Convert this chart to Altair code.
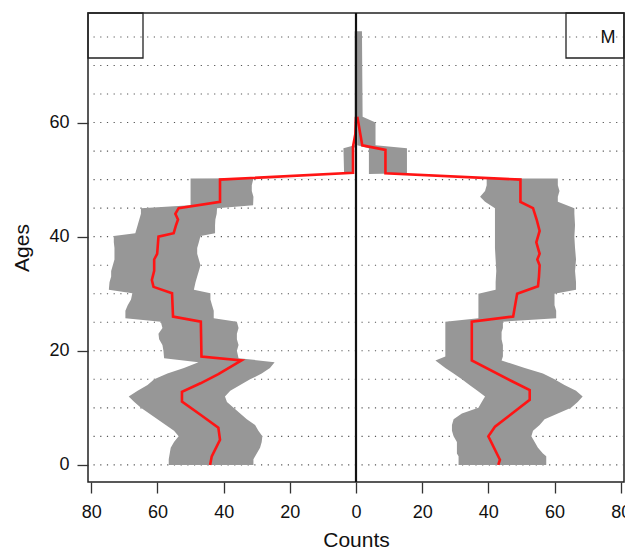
import altair as alt
import pandas as pd

# ---- data ----
# Left panel (unlabelled): band breakpoints (age), inner and outer edges (counts), median line
F_band_age = [0, 1, 2, 3, 4, 5, 6, 7, 8, 9, 10, 11, 12, 13, 14, 15, 16, 17, 18, 18.7, 20, 21, 22, 23, 24,
              25.1, 25.7, 27, 28, 29, 30.1, 30.7, 32, 33, 34, 35, 36, 37, 38, 39, 40.1, 40.6, 42, 43, 44, 45,
              45.5, 47, 48, 49, 50.2, 50.25, 51.0, 51.1, 55.5, 56, 76]
F_inner = [31, 31, 30, 29, 28.5, 28.3, 29.5, 30.5, 33, 35, 37, 39, 39.6, 38, 35, 32, 28.5, 26, 24.6,
           35.5, 36, 35.5, 36, 36, 35.5, 36, 43, 43, 43.5, 44, 44, 49, 48.5, 48, 47.5, 47, 47.5, 48, 48,
           47.5, 47, 42.6, 42.6, 42.5, 42.1, 42, 31.1, 31, 31.5, 31.5, 31, 0.6, 0.6, 0.6, 0.6, 0, 0]
F_outer = [56.6, 56.6, 56.3, 56, 55, 53.6, 55, 57.5, 60, 62.5, 65, 67, 68.7, 66, 63, 61, 57, 52, 47.6,
           58, 58.2, 58.5, 59.5, 59.7, 58.5, 59, 69.7, 69.7, 69, 68, 67.6, 74.7, 74.5, 74, 74, 73.5, 73,
           73, 73, 73.2, 73.2, 66.7, 66, 65.5, 65, 65, 50, 50, 50, 50, 50, 0.6, 0.6, 3.6, 3.8, 0.4, 0.4]
F_med_age = [0, 1.5, 4.4, 6.5, 8.8, 11.1, 12.8, 14.3, 15.9, 18.3, 19, 25.1, 26, 30.1, 31.2, 32.4, 34, 36,
             37, 40, 40.6, 42, 43, 44, 45, 46.1, 50, 51.2, 55.8, 58, 61]
F_med = [44.1, 43.6, 41.1, 41.6, 47, 52.6, 52.6, 47, 41.6, 34.6, 46.7, 46.9, 55.3, 55.6, 61.2, 61.7, 61,
         61, 60.1, 59.7, 55.1, 54.4, 53.8, 54.6, 53.6, 41.1, 41.1, 0.9, 0.9, 0.2, 0]

# Right panel (M)
M_band_age = [0, 1.5, 2, 3, 4, 5, 6, 7, 8, 9, 10, 11, 12, 13, 14, 15, 16, 17, 18.3, 19, 21, 22, 23.3, 24,
              25.1, 25.7, 27, 28, 29, 30, 30.7, 32, 34, 36, 38, 40, 42, 44, 45, 46.1, 47, 48, 49, 50.2,
              50.25, 51.0, 51.1, 55.5, 56, 60, 61, 76]
M_inner = [31, 31, 30.5, 30.5, 30.5, 29.5, 29, 29, 29.5, 32, 37, 38, 39, 36.7, 34.3, 32, 29.5, 27,
           24, 27, 27, 27, 27, 27, 27, 37, 37, 37, 37, 37, 42.2, 42.2, 42.4, 42.2, 42, 42, 42, 42, 42,
           39, 37.5, 39, 39.5, 39.5, 3.9, 3.9, 3.9, 3.9, 0.4, 0.4, 0.3, 0.3]
M_outer = [57.5, 57.5, 56.5, 55, 54, 53, 53.5, 55.5, 57, 61, 65, 67, 68.5, 66.5, 63, 60, 56.5, 51,
           44, 44.4, 44.4, 44, 44, 44.4, 44.4, 60.5, 60.5, 60, 60, 60, 66.5, 66.5, 66.2, 66.5, 66.2, 66,
           66.2, 66, 66, 61, 61, 61.5, 61, 61, 3.9, 3.9, 15.4, 15.4, 5.9, 5.9, 2, 1.8]
M_med_age = [0, 0.9, 5, 6.7, 11.4, 13.1, 14.7, 18.3, 25.1, 26, 30, 31.3, 33, 35, 36, 37, 39, 41, 43, 45,
             46.1, 50, 51.1, 55.2, 56, 61]
M_med = [43, 43.5, 40, 42, 52.5, 52.5, 47, 35, 35, 47.5, 48.7, 55, 55.3, 55.5, 54.8, 55.5, 54.5, 55.5,
         54.6, 53.5, 49.7, 49.7, 8.9, 8.9, 1.9, 0.4]

grid_ages = list(range(0, 80, 5))
x_ticks = [-80, -60, -40, -20, 0, 20, 40, 60, 80]
y_ticks = [0, 20, 40, 60]
panel_labels = ["", "M"]

# ---- tables ----
band_F = pd.DataFrame({"age": F_band_age, "lo": [-v for v in F_inner], "hi": [-v for v in F_outer]})
band_M = pd.DataFrame({"age": M_band_age, "lo": M_inner, "hi": M_outer})
med = pd.concat([
    pd.DataFrame({"side": "F", "age": F_med_age, "val": [-v for v in F_med]}),
    pd.DataFrame({"side": "M", "age": M_med_age, "val": M_med}),
])

FONT = "Liberation Sans"
xscale = alt.Scale(domain=[-81, 81], nice=False, zero=False)
yscale = alt.Scale(domain=[-3, 79.2], nice=False, zero=False)
xaxis = alt.Axis(values=x_ticks, labelExpr="abs(datum.value)", title="Counts",
                 labelPadding=10, titlePadding=8)
yaxis = alt.Axis(values=y_ticks, title="Ages", labelPadding=8, titlePadding=16)

grid = alt.Chart(pd.DataFrame({"age": grid_ages})).mark_rule(
    color="#555", strokeWidth=1.1, strokeDash=[1.2, 5.5]
).encode(y=alt.Y("age:Q", scale=yscale, axis=yaxis))


def band_layer(df):
    return alt.Chart(df).mark_area(orient="horizontal", color="#979797", opacity=1).encode(
        y=alt.Y("age:Q", scale=yscale, axis=yaxis),
        x=alt.X("lo:Q", scale=xscale, axis=xaxis, stack=False),
        x2="hi:Q",
    )


area_F = band_layer(band_F)
area_M = band_layer(band_M)

line = alt.Chart(med).mark_line(color="#ff1414", strokeWidth=2.6).encode(
    y=alt.Y("age:Q", scale=yscale, axis=yaxis),
    x=alt.X("val:Q", scale=xscale, axis=xaxis),
    detail="side:N",
    order=alt.Order("age:Q"),
)

center = alt.Chart(pd.DataFrame({"x": [0]})).mark_rule(color="#111", strokeWidth=2.2).encode(
    x=alt.X("x:Q", scale=xscale, axis=xaxis)
)

box_left = alt.Chart(pd.DataFrame({"label": [panel_labels[0]]})).mark_rect(
    fillOpacity=0, stroke="#222", strokeWidth=1.3
).encode(x=alt.value(0), x2=alt.value(55), y=alt.value(0), y2=alt.value(45))

box_right = alt.Chart(pd.DataFrame({"label": [panel_labels[1]]})).mark_rect(
    fillOpacity=0, stroke="#222", strokeWidth=1.3
).encode(x=alt.value(478), x2=alt.value(536), y=alt.value(0), y2=alt.value(45))

label_right = alt.Chart(pd.DataFrame({"label": [panel_labels[1]]})).mark_text(
    font=FONT, fontSize=18, color="#111", align="center", baseline="middle"
).encode(x=alt.value(520), y=alt.value(25), text="label:N")

chart = alt.layer(grid, area_F, area_M, line, center, box_left, box_right, label_right).properties(
    width=536, height=469,
    autosize=alt.AutoSizeParams(type="none"),
    padding={"left": 80, "top": 5, "right": 1, "bottom": 70},
    background="white",
).configure_view(stroke="#222", strokeWidth=1.5).configure_axis(
    labelFont=FONT, titleFont=FONT, labelFontSize=18, titleFontSize=21,
    titleFontWeight="normal", labelColor="#111", titleColor="#111",
    tickColor="#333", tickSize=11, tickWidth=1.3, domain=False, grid=False,
)

chart.save("out.html", embed_options={"renderer": "svg", "actions": False})
